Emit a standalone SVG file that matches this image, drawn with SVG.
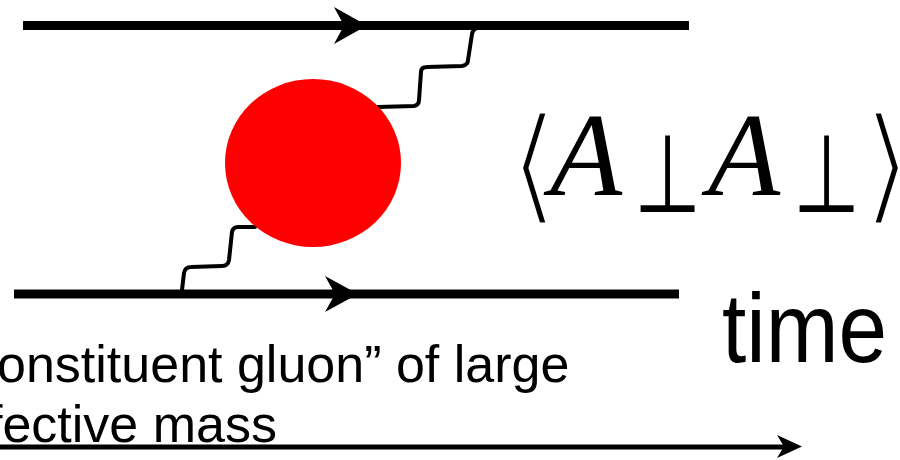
<svg xmlns="http://www.w3.org/2000/svg" width="900" height="460" viewBox="0 0 900 460">
  <style>
    .quark { stroke: #000; stroke-width: 9; fill: none; }
    .gluon { stroke: #000; stroke-width: 4; fill: none; stroke-linejoin: round; stroke-linecap: round; }
    .head { fill: #000; stroke: none; }
    .sans { font-family: "Liberation Sans", Arial, sans-serif; fill: #000; }
    .math { font-family: "Liberation Serif", "Times New Roman", serif; font-style: italic; fill: #000; }
    .sym { font-family: "DejaVu Sans", sans-serif; fill: #000; }
    .brk { font-family: "DejaVu Sans", sans-serif; fill: #000; stroke: #fff; stroke-width: 5; }
  </style>
  <rect width="900" height="460" fill="#fff"/>
  <g id="connectors">
    <line class="quark" x1="23" y1="25.5" x2="689" y2="25.5"/>
    <path class="head" d="M334,7 L367,25.5 L334,44 L344,25.5 Z"/>
    <line class="quark" x1="14" y1="294" x2="679" y2="294"/>
    <path class="head" d="M325,276 L358,294 L325,312 L335,294 Z"/>
    <path class="gluon" d="M378,107 L414,106 Q419,105 419,100 L421,72 Q421,67 427,67 L462,66 Q468,65 468,60 L472,34 Q473,29 477,28"/>
    <path class="gluon" d="M255,227 L238,227 Q233,227 232,232 L229,260 Q228,266 222,266 L191,267 Q185,267 184,273 L182,290"/>
    <line x1="-5" y1="447" x2="785" y2="447" stroke="#000" stroke-width="5"/>
    <path class="head" d="M777,435 L802,446.5 L777,458 L784,446.5 Z"/>
  </g>
  <g id="blob">
    <ellipse cx="313" cy="163" rx="88" ry="84" fill="#ff0000"/>
  </g>
  <g id="correlator">
    <text class="brk" x="509" y="208" font-size="128">⟨</text>
    <text class="math" x="550" y="195" font-size="118">A</text>
    <text class="sym" transform="translate(634,212) scale(1,1.42)" font-size="77">⊥</text>
    <text class="math" x="708" y="195" font-size="118">A</text>
    <text class="sym" transform="translate(793,212) scale(1,1.42)" font-size="77">⊥</text>
    <text class="brk" x="862" y="208" font-size="128">⟩</text>
  </g>
  <g id="time-label">
    <text class="sans" x="722" y="362" font-size="98" textLength="165" lengthAdjust="spacingAndGlyphs">time</text>
  </g>
  <g id="caption">
    <text class="sans" x="-3" y="382" font-size="52">onstituent gluon” of large</text>
    <text class="sans" x="-12" y="442" font-size="52">fective mass</text>
  </g>
</svg>
